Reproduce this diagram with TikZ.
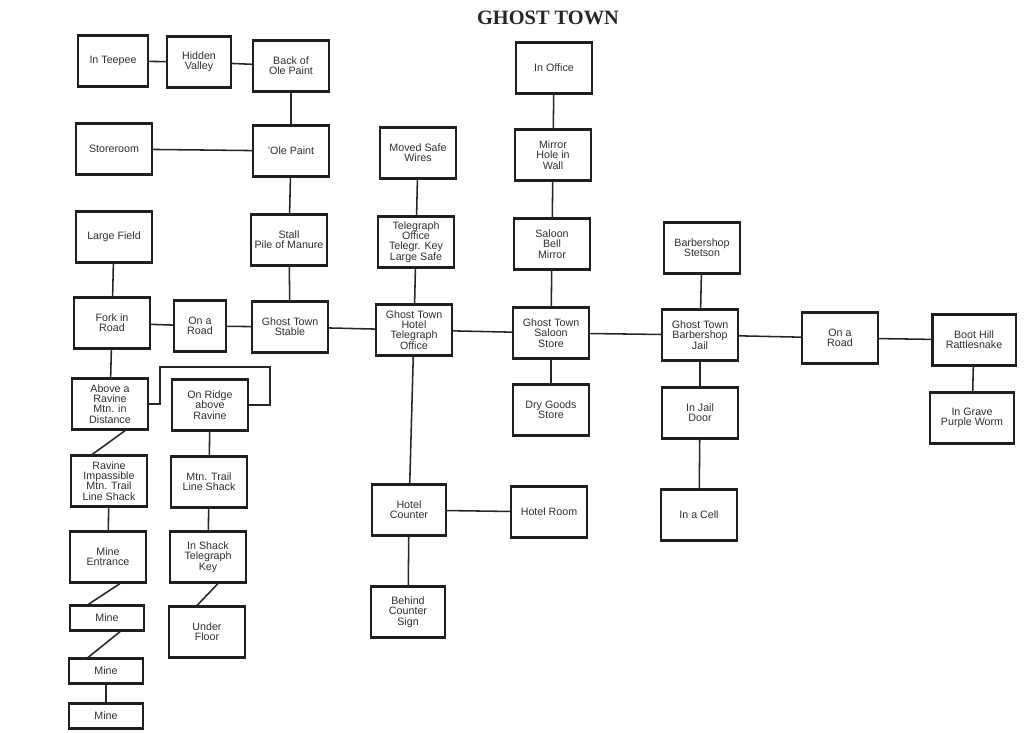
\documentclass[tikz,border=0pt]{standalone}
\usepackage{fontspec}
\setmainfont{Liberation Sans}
\newfontfamily\titlefont{Liberation Serif}
\usepackage{tikz}
\usetikzlibrary{calc}

\begin{document}
\begin{tikzpicture}[x=0.025cm,y=-0.025cm,
  room/.style={draw=black!88,line width=1.6pt,minimum width=1.9cm,minimum height=1.27cm,
    align=center,inner sep=1pt,text=black!82,font=\fontsize{7.6}{7.3}\selectfont},
  mine/.style={room,minimum width=1.86cm,minimum height=0.62cm},
  link/.style={draw=black!85,line width=1.1pt}]
  \useasboundingbox (0,0) rectangle (1024,732);
  \node[font=\titlefont\bfseries\fontsize{14.5}{14.5}\selectfont,text=black!85] (title) at (548,18) {GHOST TOWN};
  % left part: stable, paint and the ravine trail
  \node[room,minimum width=1.75cm] (teepee) at (113,61) {In Teepee};
  \node[room,minimum width=1.6cm] (valley) at (199,62) {Hidden\\Valley};
  \node[room] (backpaint) at (291,66) {Back of\\Ole Paint};
  \node[room] (storeroom) at (114,149) {Storeroom};
  \node[room] (olepaint) at (291,151) {'Ole Paint};
  \node[room] (field) at (114,237) {Large Field};
  \node[room] (stall) at (289,240) {Stall\\Pile of Manure};
  \node[room] (fork) at (112,323) {Fork in\\Road};
  \node[room,minimum width=1.3cm] (road1) at (200,326) {On a\\Road};
  \node[room] (stable) at (290,327) {Ghost Town\\Stable};
  \node[room] (aboveravine) at (110,404) {Above a\\Ravine\\Mtn. in\\Distance};
  \node[room] (ridge) at (210,405) {On Ridge\\above\\Ravine};
  \node[room] (ravine) at (109,481) {Ravine\\Impassible\\Mtn. Trail\\Line Shack};
  \node[room] (trail) at (209,482) {Mtn. Trail\\Line Shack};
  \node[room] (mineentr) at (108,557) {Mine\\Entrance};
  \node[room] (shack) at (208,557) {In Shack\\Telegraph\\Key};
  \node[mine] (mine1) at (107,618) {Mine};
  \node[room] (underfloor) at (207,632) {Under\\Floor};
  \node[mine] (mine2) at (106,671) {Mine};
  \node[mine] (mine3) at (106,716) {Mine};
  % hotel
  \node[room] (movedsafe) at (418,153) {Moved Safe\\Wires};
  \node[room] (telegraph) at (416,242) {Telegraph\\Office\\Telegr. Key\\Large Safe};
  \node[room] (hotel) at (414,330) {Ghost Town\\Hotel\\Telegraph\\Office};
  \node[room,minimum width=1.85cm] (counter) at (409,510) {Hotel\\Counter};
  \node[room] (hotelroom) at (549,512) {Hotel Room};
  \node[room,minimum width=1.85cm] (behind) at (408,612) {Behind\\Counter\\Sign};
  % saloon
  \node[room] (office) at (554,68) {In Office};
  \node[room] (mirror) at (553,155) {Mirror\\Hole in\\Wall};
  \node[room] (saloonbell) at (552,244) {Saloon\\Bell\\Mirror};
  \node[room] (saloon) at (551,333) {Ghost Town\\Saloon\\Store};
  \node[room] (drygoods) at (551,410) {Dry Goods\\Store};
  % barbershop and boot hill
  \node[room] (stetson) at (702,248) {Barbershop\\Stetson};
  \node[room] (barber) at (700,335) {Ghost Town\\Barbershop\\Jail};
  \node[room] (jaildoor) at (700,413) {In Jail\\Door};
  \node[room] (cell) at (699,515) {In a Cell};
  \node[room] (road2) at (840,338) {On a\\Road};
  \node[room,minimum width=2.08cm] (boothill) at (974,340) {Boot Hill\\Rattlesnake};
  \node[room,minimum width=2.1cm] (grave) at (972,418) {In Grave\\Purple Worm};
  \coordinate (ridgeloop) at (270,367);

  \draw[link] (teepee) -- (valley);
  \draw[link] (valley) -- (backpaint);
  \draw[link] (backpaint) -- (olepaint);
  \draw[link] (storeroom) -- (olepaint);
  \draw[link] (olepaint) -- (stall);
  \draw[link] (stall) -- (stable);
  \draw[link] (field) -- (fork);
  \draw[link] (fork) -- (road1);
  \draw[link] (road1) -- (stable);
  \draw[link] (stable) -- (hotel);
  \draw[link] (fork) -- (aboveravine);
  \draw[link] (aboveravine.east) -- ++(11,0) |- (ridgeloop) |- (ridge.east);
  \draw[link] ([xshift=0.38cm]aboveravine.south) -- ([xshift=-0.42cm]ravine.north);
  \draw[link] (ravine) -- (mineentr);
  \draw[link] ([xshift=0.3cm]mineentr.south) -- ([xshift=-0.47cm]mine1.north);
  \draw[link] ([xshift=0.33cm]mine1.south) -- ([xshift=-0.45cm]mine2.north);
  \draw[link] (mine2) -- (mine3);
  \draw[link] (ridge) -- (trail);
  \draw[link] (trail) -- (shack);
  \draw[link] ([xshift=0.25cm]shack.south) -- ([xshift=-0.25cm]underfloor.north);
  \draw[link] (movedsafe) -- (telegraph);
  \draw[link] (telegraph) -- (hotel);
  \draw[link] (hotel) -- (counter);
  \draw[link] (counter) -- (hotelroom);
  \draw[link] (counter) -- (behind);
  \draw[link] (hotel) -- (saloon);
  \draw[link] (office) -- (mirror);
  \draw[link] (mirror) -- (saloonbell);
  \draw[link] (saloonbell) -- (saloon);
  \draw[link] (saloon) -- (drygoods);
  \draw[link] (saloon) -- (barber);
  \draw[link] (stetson) -- (barber);
  \draw[link] (barber) -- (jaildoor);
  \draw[link] (jaildoor) -- (cell);
  \draw[link] (barber) -- (road2);
  \draw[link] (road2) -- (boothill);
  \draw[link] (boothill) -- (grave);
\end{tikzpicture}
\end{document}
